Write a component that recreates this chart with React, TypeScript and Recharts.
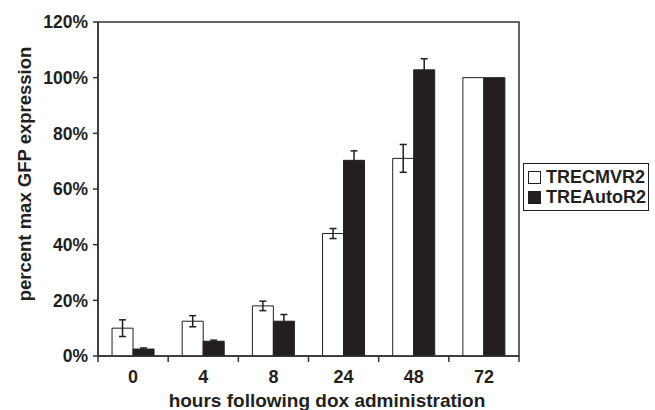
import React from 'react';
import { BarChart, Bar, XAxis, YAxis, ErrorBar, Legend, ReferenceArea } from 'recharts';

const hours = ['0', '4', '8', '24', '48', '72'];
const cmvValues = [10, 12.5, 18, 44, 71, 100];
const cmvErrors = [3, 2, 1.7, 1.8, 5, 0];
const autoValues = [2.5, 5.3, 12.5, 70.3, 102.8, 100];
const autoErrors = [0.4, 0.4, 2.4, 3.4, 4, 0];
const seriesNames = ['TRECMVR2', 'TREAutoR2'];
const yTicks = [0, 20, 40, 60, 80, 100, 120];

const INK = '#231f20';
const FONT = '"Liberation Sans", Arial, sans-serif';

const data = hours.map((h, i) => ({
  hour: h,
  cmv: cmvValues[i],
  cmvErr: cmvErrors[i],
  auto: autoValues[i],
  autoErr: autoErrors[i],
}));

// tick label at category center, tick mark on the category boundaries
function HourTick(props: any) {
  const { x, y, payload, index, visibleTicksCount } = props;
  const half = payload && payload.offset ? payload.offset : 35;
  const axisY = y - 14;
  const last = index === (visibleTicksCount ?? hours.length) - 1;
  return (
    <g>
      <line x1={x - half} x2={x - half} y1={axisY} y2={axisY + 6} stroke="#333" strokeWidth={1.5} />
      {last && <line x1={x + half} x2={x + half} y1={axisY} y2={axisY + 6} stroke="#333" strokeWidth={1.5} />}
      <text x={x} y={y} dy="0.71em" textAnchor="middle" fill={INK} fontSize={18} fontWeight="bold" fontFamily={FONT}>
        {payload.value}
      </text>
    </g>
  );
}

function LegendBox() {
  const fills = ['#ffffff', INK];
  return (
    <div style={{ border: `1.5px solid ${INK}`, padding: '3px 2px 3px 4px', background: '#fff', fontFamily: FONT }}>
      {seriesNames.map((n, i) => (
        <div key={n} style={{ display: 'flex', alignItems: 'center', height: 20, fontSize: 18, fontWeight: 'bold', color: INK, whiteSpace: 'nowrap' }}>
          <span style={{ display: 'inline-block', width: 11, height: 11, background: fills[i], border: `1px solid ${INK}`, marginRight: 5 }} />
          {n}
        </div>
      ))}
    </div>
  );
}

export default function App() {
  return (
    <div style={{ position: 'absolute', left: 0, top: 0, background: '#fff' }}>
      <BarChart
        width={655}
        height={410}
        data={data}
        margin={{ top: 22, right: 136, bottom: 0, left: 30 }}
        barCategoryGap="20%"
        barGap={0}
      >
        <XAxis
          dataKey="hour"
          height={54}
          axisLine={{ stroke: '#333', strokeWidth: 1.5 }}
          tickLine={false}
          tickSize={6}
          tickMargin={8}
          tick={<HourTick />}
          interval={0}
          label={{
            content: () => (
              <text x={327} y={407} textAnchor="middle" fill={INK} fontSize={19} fontWeight="bold" fontFamily={FONT}>
                hours following dox administration
              </text>
            ),
          }}
        />
        <YAxis
          width={68}
          domain={[0, 120]}
          ticks={yTicks}
          interval={0}
          tickFormatter={(v: number) => `${v}%`}
          axisLine={{ stroke: '#333', strokeWidth: 1.5 }}
          tickLine={{ stroke: '#333', strokeWidth: 1.5 }}
          tickSize={5}
          tickMargin={5}
          tick={{ fill: INK, fontSize: 17.5, fontWeight: 'bold', fontFamily: FONT }}
          label={{
            content: () => (
              <text
                x={31}
                y={174}
                transform="rotate(-90 31 174)"
                textAnchor="middle"
                fill={INK}
                fontSize={18.5}
                fontWeight="bold"
                fontFamily={FONT}
              >
                percent max GFP expression
              </text>
            ),
          }}
        />
        <ReferenceArea y1={0} y2={120} fill="none" stroke="#333" strokeWidth={1.5} ifOverflow="visible" />
        <Legend
          layout="vertical"
          align="center"
          verticalAlign="middle"
          content={() => <LegendBox />}
          wrapperStyle={{ left: 523, top: 163, width: 'auto' }}
        />
        <Bar dataKey="cmv" name={seriesNames[0]} fill="#ffffff" stroke={INK} strokeWidth={1} isAnimationActive={false}>
          <ErrorBar dataKey="cmvErr" width={3.5} stroke={INK} strokeWidth={1.5} />
        </Bar>
        <Bar dataKey="auto" name={seriesNames[1]} fill={INK} stroke={INK} strokeWidth={1} isAnimationActive={false}>
          <ErrorBar dataKey="autoErr" width={3.5} stroke={INK} strokeWidth={1.5} />
        </Bar>
      </BarChart>
    </div>
  );
}
